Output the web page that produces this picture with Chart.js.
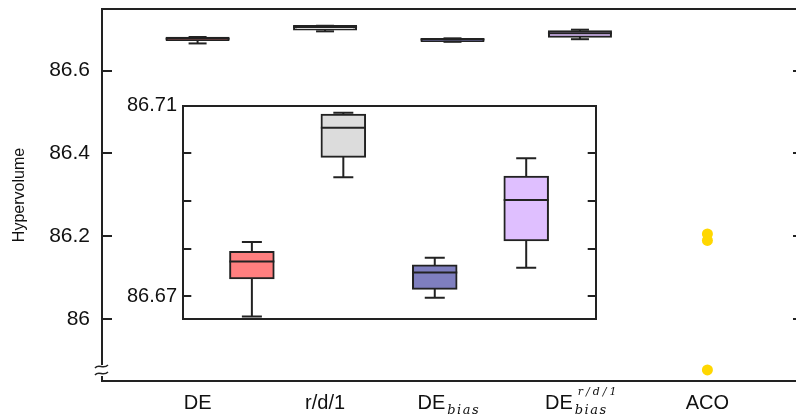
<!DOCTYPE html>
<html><head><meta charset="utf-8">
<script src="https://cdn.jsdelivr.net/npm/chart.js@4.4.1/dist/chart.umd.min.js"></script>
<style>
html,body{margin:0;padding:0;background:#fff;}
#wrap{position:relative;width:796px;height:419px;overflow:hidden;background:#fff;}
#main{position:absolute;left:0;top:0;}
#inset{position:absolute;left:100px;top:90px;}
</style></head><body>
<div id="wrap"><canvas id="main" width="810" height="419"></canvas><canvas id="inset" width="510" height="240"></canvas></div>
<script>
// ---- data ----
const categories = ['DE', 'r/d/1', 'DE', 'DE', 'ACO'];
const labelSub = ['', '', 'bias', 'bias', ''];
const labelSup = ['', '', '', 'r/d/1', ''];
const whiskerLow  = [86.6658, 86.6950, 86.6697, 86.6760];
const q1          = [86.6738, 86.6993, 86.6716, 86.6818];
const median      = [86.6773, 86.7054, 86.6750, 86.6902];
const q3          = [86.6793, 86.7081, 86.6765, 86.6951];
const whiskerHigh = [86.6814, 86.7085, 86.6781, 86.6990];
const acoValues = [86.2053, 86.1896, 85.8768];
const mainTickLabels = [86, 86.2, 86.4, 86.6];
const insetTickLabels = [86.67, 86.71];

// ---- styles ----
const boxColors = ['#FF7F7F', '#DCDCDC', '#7F7FBF', '#DFBFFF'];
const ink = '#222';
const fam = '"Liberation Sans", Arial, sans-serif';
const mathFam = '"DejaVu Serif", "Liberation Serif", serif';
Chart.defaults.font.family = fam;
Chart.defaults.color = '#111';

function boxDatasets(barW, medHalf, capHalf, inflate) {
  const stems = [];
  q1.forEach((v, i) => {
    stems.push({x: i + 1, y: q3[i]}, {x: i + 1, y: whiskerHigh[i]}, {x: i + 1, y: null});
    stems.push({x: i + 1, y: v}, {x: i + 1, y: whiskerLow[i]}, {x: i + 1, y: null});
  });
  return [
    {type: 'line', data: median.map((v, i) => ({x: i + 1, y: v})), showLine: false,
     pointStyle: 'line', pointRadius: medHalf, pointHoverRadius: medHalf, pointBorderWidth: 2, pointBorderColor: ink},
    {type: 'line', data: whiskerLow.map((v, i) => ({x: i + 1, y: v})).concat(whiskerHigh.map((v, i) => ({x: i + 1, y: v}))),
     showLine: false, pointStyle: 'line', pointRadius: capHalf, pointHoverRadius: capHalf, pointBorderWidth: 2, pointBorderColor: ink},
    {type: 'bar', data: q1.map((v, i) => ({x: i + 1, y: [v, q3[i]]})), backgroundColor: boxColors,
     borderColor: ink, borderWidth: 2, borderSkipped: false, barThickness: barW, inflateAmount: inflate},
    {type: 'line', data: stems, borderColor: ink, borderWidth: 2, pointRadius: 0, spanGaps: false, fill: false}
  ];
}

function noPad(s) { s.paddingTop = 0; s.paddingBottom = 0; s.paddingLeft = 0; s.paddingRight = 0; }
function fixW(w) { return s => { s.width = w; noPad(s); }; }
function fixH(h) { return s => { s.height = h; noPad(s); }; }

const xLabelPlugin = {
  id: 'xLabels',
  afterDraw(chart) {
    const ctx = chart.ctx, xs = chart.scales.x;
    const base = chart.chartArea.bottom + 28;
    ctx.save();
    ctx.fillStyle = '#111';
    ctx.textBaseline = 'alphabetic';
    categories.forEach((c, i) => {
      const cx = xs.getPixelForValue(i + 1);
      ctx.font = '20px ' + fam;
      ctx.letterSpacing = '0px';
      if (!labelSub[i] && !labelSup[i]) {
        ctx.textAlign = 'center';
        ctx.fillText(c, cx, base);
        return;
      }
      ctx.textAlign = 'left';
      const x0 = cx - 35;
      ctx.fillText(c, x0, base);
      const w = ctx.measureText(c).width;
      if (labelSub[i]) {
        ctx.font = 'italic 13px ' + mathFam;
        ctx.letterSpacing = '1.5px';
        ctx.fillText(labelSub[i], x0 + w + 2, base + 5);
      }
      if (labelSup[i]) {
        ctx.font = 'italic 11px ' + mathFam;
        ctx.letterSpacing = '3px';
        ctx.fillText(labelSup[i], x0 + w + 5, base - 14);
      }
    });
    ctx.restore();
  }
};

const breakPlugin = {
  id: 'axisBreak',
  afterDraw(chart) {
    const ctx = chart.ctx, L = chart.chartArea.left, B = chart.chartArea.bottom;
    ctx.save();
    ctx.fillStyle = '#fff';
    ctx.fillRect(L - 2, B - 16, 4, 11);
    ctx.strokeStyle = ink;
    ctx.lineWidth = 1.5;
    [B - 14.5, B - 7.5].forEach(y => {
      ctx.beginPath();
      ctx.moveTo(L - 7, y + 1.5);
      ctx.bezierCurveTo(L - 3, y - 3.5, L + 1, y + 3.5, L + 6, y - 1.5);
      ctx.stroke();
    });
    ctx.restore();
  }
};

const tickGrid = (len) => ({display: true, drawOnChartArea: false, tickLength: len, color: ink, lineWidth: 2});
const border2 = {display: true, color: ink, width: 2};

// ---- main chart ----
const mainDatasets = boxDatasets(62, 32, 9, 1);
mainDatasets.unshift({type: 'line', data: acoValues.map(v => ({x: 5, y: v})), showLine: false,
  pointRadius: 5.5, pointHoverRadius: 5.5, pointBackgroundColor: '#FFD700', pointBorderWidth: 0});

new Chart(document.getElementById('main'), {
  type: 'bar',
  data: {datasets: mainDatasets},
  options: {
    responsive: false, animation: false, events: [],
    layout: {padding: 0, autoPadding: false},
    plugins: {legend: {display: false}, tooltip: {enabled: false}},
    scales: {
      x: {type: 'linear', position: 'bottom', min: 0.25, max: 5.75, offset: false,
          grid: {display: false}, border: border2, ticks: {display: false}, afterFit: fixH(38)},
      x2: {type: 'linear', position: 'top', min: 0, max: 1, offset: false,
           grid: {display: false}, border: border2, ticks: {display: false}, afterFit: fixH(9)},
      y: {type: 'linear', position: 'left', min: 85.85, max: 86.749, beginAtZero: false,
          grid: tickGrid(-10), border: border2,
          ticks: {stepSize: 0.2, includeBounds: false, padding: 22, font: {size: 21}, color: '#111',
                  callback: v => mainTickLabels.some(t => Math.abs(t - v) < 1e-6) ? String(+v.toFixed(2)) : ''},
          title: {display: true, text: 'Hypervolume', font: {size: 16}, color: '#111', padding: {top: 10, bottom: 0}},
          afterFit: fixW(102)},
      yR: {type: 'linear', position: 'right', min: 85.85, max: 86.749, beginAtZero: false,
           grid: tickGrid(-10), border: border2,
           ticks: {stepSize: 0.2, includeBounds: false, callback: () => ''},
           afterFit: fixW(7)}
    }
  },
  plugins: [xLabelPlugin, breakPlugin]
});

// ---- inset chart ----
new Chart(document.getElementById('inset'), {
  type: 'bar',
  data: {datasets: boxDatasets(43.5, 22.5, 10, 1)},
  options: {
    responsive: false, animation: false, events: [],
    layout: {padding: 0, autoPadding: false},
    plugins: {legend: {display: false}, tooltip: {enabled: false}},
    scales: {
      x: {type: 'linear', position: 'bottom', min: 0.25, max: 4.76, offset: false,
          grid: {display: false}, border: border2, ticks: {display: false}, afterFit: fixH(10.7)},
      x2: {type: 'linear', position: 'top', min: 0, max: 1, offset: false,
           grid: {display: false}, border: border2, ticks: {display: false}, afterFit: fixH(15.7)},
      y: {type: 'linear', position: 'left', min: 86.6652, max: 86.71, beginAtZero: false,
          grid: tickGrid(-8), border: border2,
          ticks: {stepSize: 0.01, includeBounds: false, padding: 14.3, font: {size: 20}, color: '#111',
                  callback: v => insetTickLabels.some(t => Math.abs(t - v) < 1e-6) ? v.toFixed(2) : ''},
          afterFit: fixW(83.3)},
      yR: {type: 'linear', position: 'right', min: 86.6652, max: 86.71, beginAtZero: false,
           grid: tickGrid(-8), border: border2,
           ticks: {stepSize: 0.01, includeBounds: false, callback: () => ''},
           afterFit: fixW(14.3)}
    }
  }
});
</script>
</body></html>
